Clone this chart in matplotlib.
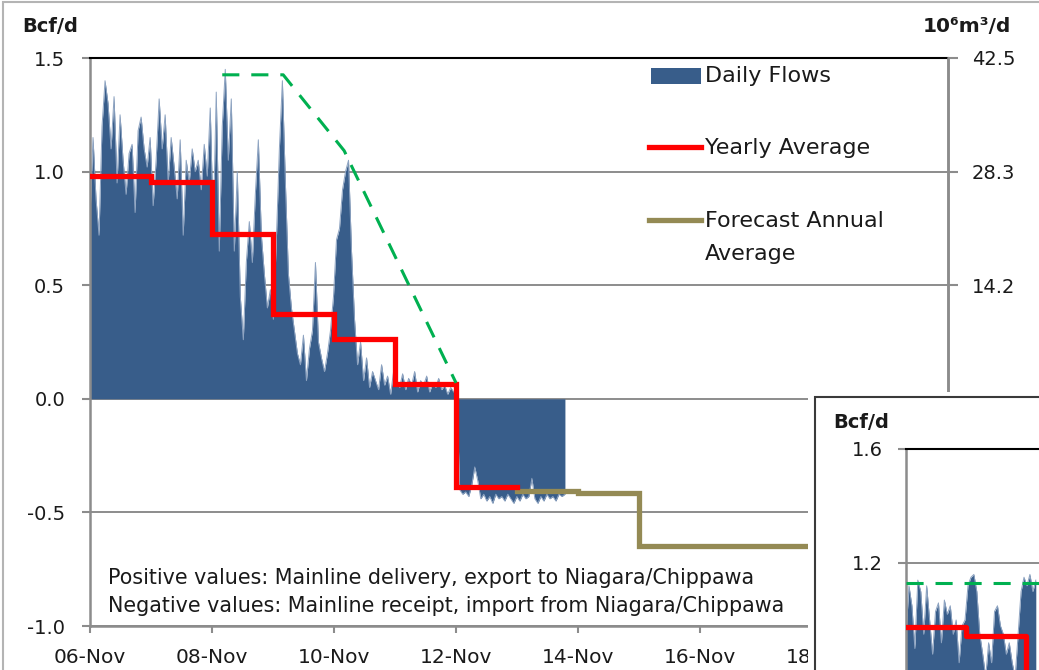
import matplotlib
matplotlib.use("Agg")
import matplotlib.pyplot as plt
from matplotlib.patches import Rectangle
from matplotlib.lines import Line2D
import pandas as pd

plt.rcParams['font.family'] = ['DejaVu Sans']

W, H = 1039, 670

# ---------------- data (main chart) ----------------
flow_start = "2006-11-01"
flow_freq = "18D"
daily_flows = [
    0.80, 1.15, 0.88, 0.72, 1.20, 1.40, 1.30, 1.10, 1.33, 0.95, 1.25, 1.05, 0.90, 1.08, 1.12,
    0.82, 1.18, 1.24, 1.10, 1.02, 1.15, 0.85, 1.05, 1.32, 1.10, 1.25, 0.95, 1.15, 1.02, 0.88,
    1.14, 0.72, 1.05, 0.95, 1.10, 1.00, 1.05, 0.92, 1.12, 0.98, 1.28, 0.75, 1.35, 0.65, 1.20,
    1.45, 1.05, 1.32, 0.65, 1.00, 0.45, 0.26, 0.60, 0.78, 0.60, 0.90, 1.14, 0.72, 0.55, 0.40,
    0.48, 0.35, 0.70, 1.10, 1.40, 0.95, 0.55, 0.40, 0.30, 0.20, 0.15, 0.28, 0.08, 0.22, 0.30,
    0.60, 0.25, 0.18, 0.12, 0.20, 0.30, 0.45, 0.70, 0.75, 0.92, 1.00, 1.05, 0.65, 0.35, 0.15,
    0.25, 0.08, 0.18, 0.05, 0.12, 0.08, 0.04, 0.15, 0.06, 0.10, 0.02, 0.12, 0.08, 0.05, 0.11,
    0.04, 0.09, 0.06, 0.12, 0.03, 0.08, 0.06, 0.10, 0.03, 0.07, 0.05, 0.09, 0.04, 0.06, 0.02,
    0.05, 0.03, 0.02,
    -0.40, -0.42, -0.41, -0.43, -0.38, -0.30, -0.36, -0.44, -0.42, -0.45, -0.43, -0.46,
    -0.42, -0.44, -0.43, -0.45, -0.42, -0.44, -0.46, -0.43, -0.45, -0.42, -0.44, -0.43,
    -0.35, -0.44, -0.46, -0.43, -0.45, -0.42, -0.44, -0.43, -0.45, -0.42, -0.43, -0.42,
]
year_edges = ["2006-11-01", "2007-11-01", "2008-11-01", "2009-11-01", "2010-11-01",
              "2011-11-01", "2012-11-01", "2013-11-01"]
yearly_average = [0.98, 0.955, 0.725, 0.375, 0.265, 0.065, -0.39]
forecast_edges = ["2013-11-01", "2014-11-01", "2015-11-01", "2016-11-01", "2017-11-01",
                  "2018-11-01", "2019-11-01", "2020-11-30"]
forecast_average = [-0.405, -0.415, -0.65, -0.65, -0.65, -0.65, -0.65]
capacity_dates = ["2009-01-01", "2010-01-01", "2011-01-01", "2012-11-01"]
capacity_values = [1.426, 1.426, 1.092, 0.07]

x_tick_dates = ["2006-11-01", "2008-11-01", "2010-11-01", "2012-11-01", "2014-11-01",
                "2016-11-01", "2018-11-01", "2020-11-01"]
x_tick_labels = ["06-Nov", "08-Nov", "10-Nov", "12-Nov", "14-Nov", "16-Nov", "18-Nov", "20-Nov"]
x_limits = ["2006-11-01", "2020-11-25"]
left_ticks = [-1.0, -0.5, 0.0, 0.5, 1.0, 1.5]
right_tick_labels = ["-28.3", "-14.2", "0.0", "14.2", "28.3", "42.5"]
BCF_TO_E6M3 = 28.317

# ---------------- data (inset chart) ----------------
inset_start = "2006-11-01"
inset_freq = "18D"
inset_flows = [
    0.95, 1.12, 1.05, 0.90, 1.14, 1.10, 0.95, 1.12, 1.00, 0.88, 1.03, 1.06, 0.92, 1.07, 1.02,
    1.05, 0.95, 1.00, 0.85, 0.98, 1.00, 1.12, 1.15, 1.16, 1.10, 0.95, 0.88, 0.80, 0.92, 0.85,
    1.03, 1.05, 0.98, 0.95, 0.88, 0.92, 0.85, 0.80, 0.95, 1.10, 1.15, 1.12, 1.16, 1.10, 1.14,
]
inset_year_edges = ["2006-11-01", "2007-11-01", "2008-11-01", "2009-11-01"]
inset_yearly = [0.975, 0.944, 0.80]
inset_capacity_dates = ["2006-11-01", "2010-11-01"]
inset_capacity_values = [1.13, 1.13]
inset_ticks = [1.2, 1.6]
inset_xlim = ["2006-11-01", "2013-06-01"]

# ---------------- colours ----------------
BLUE = "#385D8A"
BLUE_EDGE = "#8DA3C1"
RED = "#FF0000"
OLIVE = "#948A54"
GREEN = "#00B050"
GRID = "#8C8C8C"


def fx(px):
    return px / W


def fy(py):
    return 1 - py / H


fig = plt.figure(figsize=(W / 100, H / 100), dpi=100)
fig.patch.set_facecolor("white")

# outer page frame
fig.add_artist(Rectangle((fx(3), fy(H + 20)), 2, fy(2) - fy(H + 20), transform=fig.transFigure,
                         facecolor="none", edgecolor="#B4B4B4", lw=1.5, zorder=0.5))

ax = fig.add_axes([fx(90), fy(626), fx(948) - fx(90), fy(58) - fy(626)])
flow_dates = pd.date_range(flow_start, periods=len(daily_flows), freq=flow_freq)
ax.fill_between(flow_dates, 0, daily_flows, color=BLUE, lw=0, zorder=2)
ax.plot(flow_dates, daily_flows, color=BLUE_EDGE, lw=0.7, zorder=2.1)

ye = pd.to_datetime(year_edges)
ax.step(ye, yearly_average + [yearly_average[-1]], where="post", color=RED, lw=3.8, zorder=4,
        solid_joinstyle="miter")
fe = pd.to_datetime(forecast_edges)
ax.step(fe, forecast_average + [forecast_average[-1]], where="post", color=OLIVE, lw=3.8, zorder=3,
        solid_joinstyle="miter")
ax.plot(pd.to_datetime(capacity_dates), capacity_values, color=GREEN, lw=2.2,
        dashes=(5.6, 3.9), zorder=5)

ax.set_xlim(pd.to_datetime(x_limits))
ax.set_ylim(-1.0, 1.5)
ax.set_yticks(left_ticks)
ax.set_yticklabels([f"{v:.1f}" for v in left_ticks])
ax.set_xticks(pd.to_datetime(x_tick_dates))
ax.set_xticklabels(x_tick_labels)
ax.set_axisbelow(True)
ax.yaxis.grid(True, color=GRID, lw=1.4)
ax.xaxis.grid(False)
for s in ["left", "bottom", "right"]:
    ax.spines[s].set_color(GRID)
    ax.spines[s].set_linewidth(1.8)
ax.spines["top"].set_color("black")
ax.spines["top"].set_linewidth(1.5)
ax.tick_params(axis="y", direction="out", length=6, width=1.5, color=GRID, labelsize=14, pad=12,
               labelcolor="#1a1a1a")
ax.tick_params(axis="x", direction="out", length=5, width=1.5, color=GRID, labelsize=14.5, pad=11,
               labelcolor="#1a1a1a")

ax2 = ax.twinx()
ax2.set_ylim(-1.0 * BCF_TO_E6M3, 1.5 * BCF_TO_E6M3)
ax2.set_yticks([v * BCF_TO_E6M3 for v in left_ticks])
ax2.set_yticklabels(right_tick_labels)
for s in ["left", "bottom", "top"]:
    ax2.spines[s].set_visible(False)
ax2.spines["right"].set_color(GRID)
ax2.spines["right"].set_linewidth(1.8)
ax2.tick_params(axis="y", direction="out", length=7, width=1.5, color=GRID, labelsize=14, pad=10,
                labelcolor="#1a1a1a")

# unit labels
fig.text(fx(22), fy(26), "Bcf/d", fontsize=14, fontweight="bold", ha="left", va="center",
         color="#1a1a1a")
fig.text(fx(1011), fy(27), "10⁶m³/d", fontsize=14.5, fontweight="bold", ha="right", va="center",
         color="#1a1a1a")

# legend (drawn as in the source, handle aligned with first text line)
fig.add_artist(Rectangle((fx(651), fy(84)), fx(701) - fx(651), fy(68) - fy(84),
                         transform=fig.transFigure, facecolor=BLUE, edgecolor="none", zorder=4))
fig.add_artist(Line2D([fx(649), fx(701)], [fy(147), fy(147)], transform=fig.transFigure,
                      color=RED, lw=3.8, zorder=4))
fig.add_artist(Line2D([fx(649), fx(701)], [fy(220), fy(220)], transform=fig.transFigure,
                      color=OLIVE, lw=3.8, zorder=4))
leg_kw = dict(fontsize=16, ha="left", va="center", color="#1a1a1a", zorder=4)
fig.text(fx(705), fy(76), "Daily Flows", **leg_kw)
fig.text(fx(705), fy(148), "Yearly Average", **leg_kw)
fig.text(fx(705), fy(221), "Forecast Annual", **leg_kw)
fig.text(fx(705), fy(254), "Average", **leg_kw)

# notes
note_kw = dict(fontsize=14.9, ha="left", va="center", color="#1a1a1a", zorder=4)
fig.text(fx(108), fy(578), "Positive values: Mainline delivery, export to Niagara/Chippawa", **note_kw)
fig.text(fx(108), fy(606), "Negative values: Mainline receipt, import from Niagara/Chippawa", **note_kw)

# ---------------- inset chart ----------------
fig.add_artist(Rectangle((fx(808), fy(H + 50)), 1, fy(392) - fy(H + 50), transform=fig.transFigure,
                         facecolor="white", edgecolor="none", zorder=5))
fig.add_artist(Rectangle((fx(815), fy(H + 50)), 1, fy(397) - fy(H + 50), transform=fig.transFigure,
                         facecolor="none", edgecolor="#3a3a3a", lw=1.5, zorder=5.5))

axi = fig.add_axes([fx(906), fy(905), fx(1300) - fx(906), fy(449) - fy(905)], zorder=6)
axi.patch.set_facecolor("white")
inset_dates = pd.date_range(inset_start, periods=len(inset_flows), freq=inset_freq)
axi.fill_between(inset_dates, 0, inset_flows, color=BLUE, lw=0, zorder=2)
axi.plot(inset_dates, inset_flows, color=BLUE_EDGE, lw=0.7, zorder=2.1)
iye = pd.to_datetime(inset_year_edges)
axi.step(iye, inset_yearly + [inset_yearly[-1]], where="post", color=RED, lw=3.8, zorder=4)
axi.plot(pd.to_datetime(inset_capacity_dates), inset_capacity_values, color=GREEN, lw=2.2,
         dashes=(5.6, 3.9), zorder=5)
axi.set_xlim(pd.to_datetime(inset_xlim))
axi.set_ylim(0, 1.6)
axi.set_yticks(inset_ticks)
axi.set_yticklabels([f"{v:.1f}" for v in inset_ticks])
axi.set_xticks([])
axi.set_axisbelow(True)
axi.yaxis.grid(True, color=GRID, lw=1.4)
axi.spines["left"].set_color(GRID)
axi.spines["left"].set_linewidth(1.8)
axi.spines["top"].set_color("black")
axi.spines["top"].set_linewidth(1.5)
axi.spines["right"].set_visible(False)
axi.spines["bottom"].set_visible(False)
axi.tick_params(axis="y", direction="out", length=6, width=1.5, color=GRID, labelsize=14, pad=11,
                labelcolor="#1a1a1a")
fig.text(fx(833), fy(422), "Bcf/d", fontsize=14, fontweight="bold", ha="left", va="center",
         color="#1a1a1a", zorder=7)

fig.savefig("out.png", dpi=100)
